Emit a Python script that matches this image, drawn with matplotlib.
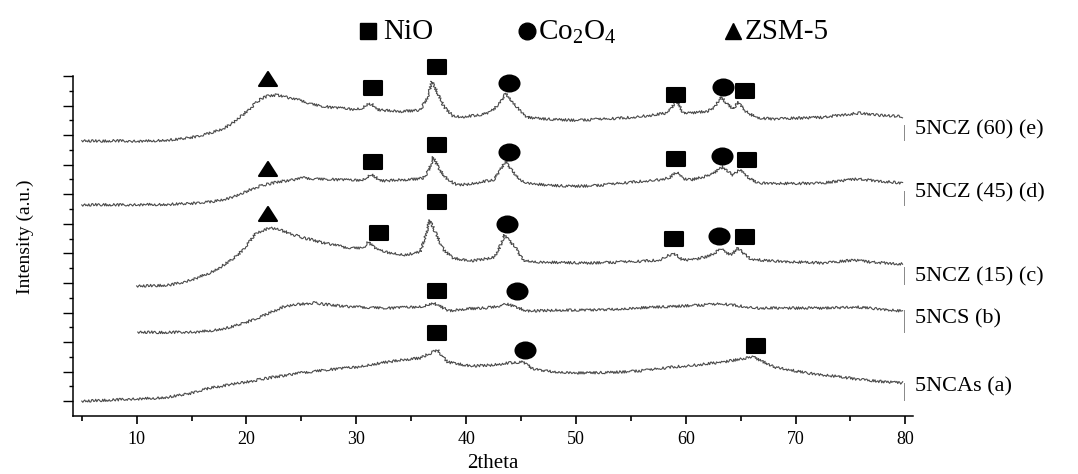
import numpy as np
import matplotlib
matplotlib.use("Agg")
from matplotlib import pyplot as plt
from matplotlib.markers import MarkerStyle
from matplotlib.transforms import Affine2D
from matplotlib.ticker import MultipleLocator, FixedLocator

plt.rcParams['font.family'] = ['Liberation Serif', 'DejaVu Serif']
plt.rcParams['mathtext.fontset'] = 'custom'
plt.rcParams['mathtext.rm'] = 'Liberation Serif'

# XRD traces, (2theta, intensity offset units)
trace_e = [(5.0,18.63),(6.5,18.6),(8.0,18.62),(9.5,18.58),(11.0,18.6),(12.5,18.66),(13.5,18.7),
           (14.5,18.8),(15.5,18.9),(16.3,19.05),(17.0,19.2),(17.9,19.45),(18.5,19.7),(19.1,20.0),
           (19.7,20.4),(20.3,20.8),(20.9,21.2),(21.4,21.5),(22.0,21.65),(22.8,21.72),(23.5,21.6),
           (24.2,21.45),(25.2,21.3),(26.0,21.1),(27.0,20.95),(28.0,20.85),(29.0,20.8),(29.7,20.75),
           (30.5,20.8),(31.1,21.15),(31.5,21.05),(31.9,20.72),(33.0,20.65),(34.0,20.6),(35.0,20.65),
           (35.8,20.7),(36.4,21.4),(36.9,22.62),(37.4,21.85),(38.0,20.9),(38.8,20.3),(39.5,20.22),
           (40.5,20.3),(41.5,20.4),(42.2,20.55),(43.0,21.1),(43.6,21.85),(44.3,21.2),(45.0,20.6),
           (45.6,20.2),(47.0,20.1),(48.5,20.05),(50.0,20.0),(51.3,20.05),(53.0,20.1),(55.0,20.2),
           (57.0,20.35),(58.3,20.5),(59.2,21.3),(59.8,20.45),(61.0,20.55),(62.0,20.6),(62.7,20.95),
           (63.2,21.6),(63.8,21.1),(64.3,20.75),(64.8,21.25),(65.5,20.6),(66.5,20.15),(68.0,20.1),
           (70.0,20.15),(72.5,20.2),(74.0,20.35),(75.9,20.5),(77.5,20.35),(79.75,20.25)]
trace_d = [(5.0,14.28),(7.0,14.3),(9.0,14.27),(11.0,14.3),(13.0,14.32),(15.5,14.4),(17.0,14.5),
           (18.5,14.75),(19.5,15.0),(20.3,15.3),(21.0,15.5),(22.0,15.7),(23.0,15.85),(24.0,15.95),
           (25.2,16.1),(26.5,16.05),(28.0,16.0),(29.5,15.95),(30.6,15.97),(31.4,16.37),(32.2,15.9),
           (33.5,15.95),(35.0,16.0),(36.1,16.1),(36.6,16.6),(37.0,17.52),(37.6,16.64),(38.3,16.0),
           (39.2,15.63),(40.5,15.7),(41.5,15.85),(42.5,15.97),(43.0,16.5),(43.6,17.25),(44.3,16.5),
           (45.0,15.95),(45.6,15.76),(47.5,15.6),(49.5,15.55),(51.3,15.56),(53.5,15.7),(55.5,15.85),
           (57.4,15.97),(58.5,16.1),(59.2,16.5),(59.8,16.05),(60.4,15.97),(61.5,16.15),(62.3,16.3),
           (63.0,16.7),(63.4,16.85),(63.9,16.5),(64.3,16.3),(65.0,16.7),(65.6,16.2),(66.5,15.76),
           (68.0,15.75),(70.0,15.72),(72.5,15.76),(74.0,15.9),(75.6,16.03),(77.5,15.9),(79.75,15.76)]
trace_c = [(10.0,8.8),(11.5,8.82),(13.0,8.86),(14.3,9.05),(15.5,9.34),(16.7,9.7),(17.8,10.15),
           (18.8,10.65),(19.7,11.23),(20.3,11.8),(20.9,12.38),(21.5,12.55),(22.1,12.72),(23.0,12.6),
           (24.0,12.35),(24.9,12.1),(25.8,11.95),(26.7,11.77),(27.8,11.6),(28.8,11.43),(29.8,11.38),
           (30.6,11.37),(31.1,11.77),(31.9,11.23),(33.0,11.05),(34.3,10.9),(35.2,11.0),(35.8,11.1),
           (36.2,11.9),(36.7,13.26),(37.4,12.1),(38.0,11.2),(38.8,10.69),(40.4,10.49),(41.5,10.6),
           (42.5,10.72),(43.0,11.3),(43.5,12.25),(44.0,11.8),(44.5,11.43),(45.2,10.55),(46.5,10.42),
           (48.5,10.38),(51.3,10.35),(53.5,10.4),(55.5,10.45),(57.6,10.55),(58.9,11.03),(59.7,10.55),
           (61.0,10.62),(62.0,10.8),(62.6,11.0),(63.2,11.3),(63.7,11.05),(64.2,10.9),(64.7,11.37),
           (65.9,10.62),(67.5,10.5),(70.0,10.42),(72.5,10.35),(74.0,10.45),(75.3,10.55),(77.0,10.4),
           (79.75,10.28)]
trace_b = [(10.1,5.68),(12.0,5.66),(14.0,5.66),(15.5,5.68),(17.0,5.8),(18.5,6.0),(19.8,6.3),
           (21.0,6.6),(22.2,7.0),(23.3,7.37),(24.7,7.55),(26.1,7.65),(27.8,7.5),(29.7,7.37),
           (31.5,7.35),(33.0,7.3),(34.5,7.35),(36.0,7.4),(37.0,7.65),(38.5,7.1),(40.0,7.25),
           (41.5,7.3),(42.5,7.37),(43.7,7.58),(45.6,7.1),(48.0,7.15),(51.3,7.17),(54.0,7.25),
           (57.4,7.37),(60.0,7.45),(63.4,7.58),(66.5,7.3),(69.0,7.3),(72.5,7.3),(75.6,7.37),
           (77.5,7.25),(79.75,7.1)]
trace_a = [(5.0,1.01),(7.5,1.08),(10.0,1.15),(11.5,1.2),(13.0,1.29),(15.0,1.55),(16.7,1.89),
           (18.3,2.1),(20.0,2.3),(21.8,2.55),(23.7,2.77),(25.3,2.95),(27.0,3.11),(28.5,3.2),
           (30.1,3.32),(31.5,3.5),(32.8,3.65),(34.3,3.8),(35.8,3.92),(36.6,4.2),(37.4,4.47),
           (38.3,3.65),(40.4,3.38),(42.5,3.45),(43.9,3.59),(45.2,3.65),(46.1,3.18),(48.0,3.0),
           (50.1,2.91),(52.0,2.93),(54.3,2.98),(56.5,3.1),(58.9,3.32),(61.0,3.45),(63.4,3.65),
           (65.0,3.85),(66.2,3.99),(68.0,3.32),(71.0,2.91),(73.5,2.7),(75.6,2.5),(77.5,2.35),
           (79.75,2.23)]

traces = [trace_e, trace_d, trace_c, trace_b, trace_a]
labels = ["5NCZ (60) (e)", "5NCZ (45) (d)", "5NCZ (15) (c)", "5NCS (b)", "5NCAs (a)"]
label_y = [19.35, 15.1, 9.4, 6.6, 1.95]
end_bars = [(18.7, 19.7), (14.3, 15.2), (8.9, 10.1), (5.7, 7.2), (1.1, 2.2)]

# phase markers (2theta, height)
nio_pos = [(31.53,22.19),(37.36,23.61),(59.15,21.72),(65.44,21.99),
           (31.53,17.19),(37.36,18.34),(59.15,17.39),(65.62,17.32),
           (32.07,12.38),(37.36,14.48),(58.97,11.98),(65.44,12.11),
           (37.36,8.46),
           (37.36,5.62),(66.44,4.74)]
co_pos = [(43.92,22.53),(63.43,22.26),(43.92,17.86),(63.34,17.59),
          (43.74,12.99),(63.07,12.18),(44.65,8.46),(45.38,4.47)]
zsm_pos = [(21.96,22.8),(21.96,16.71),(21.96,13.67)]

legend_names = ["NiO", "Co$_2$O$_4$", "ZSM-5"]

fig = plt.figure(figsize=(10.78, 4.74), dpi=100)
ax = fig.add_axes([73/1078, 58/474, 840/1078, 340/474])

for tr in traces:
    xs, ys = zip(*tr)
    ln, = ax.plot(xs, ys, color='#4a4a4a', lw=0.8, clip_on=False)
    ln.set_sketch_params(scale=1.3, length=1.5, randomness=3)

for (y0, y1) in end_bars:
    ax.plot([79.85, 79.85], [y0, y1], color='#888888', lw=0.7, clip_on=False)

for lab, ly in zip(labels, label_y):
    ax.text(80.9, ly, lab, fontsize=16, va='center', ha='left', clip_on=False)

sq = MarkerStyle('s', joinstyle='round', transform=Affine2D().scale(1.25, 1.0))
ci = MarkerStyle('o', transform=Affine2D().scale(1.25, 1.0))
tri = MarkerStyle('^', joinstyle='round', transform=Affine2D().scale(1.3, 1.0))

for pts, m, ms in [(nio_pos, sq, 10), (co_pos, ci, 11.5), (zsm_pos, tri, 10.5)]:
    px, py = zip(*pts)
    ax.plot(px, py, ls='none', marker=m, ms=ms, color='black', mew=1.5, clip_on=False)

ax.set_xlim(4.2, 80.7)
ax.set_ylim(0, 23)
ax.xaxis.set_major_locator(MultipleLocator(10))
ax.xaxis.set_minor_locator(MultipleLocator(5))
ax.yaxis.set_major_locator(FixedLocator(np.arange(1, 24, 2)))
ax.yaxis.set_minor_locator(FixedLocator(np.arange(2, 23, 2)))
ax.tick_params(axis='x', which='major', length=6, width=1.2, labelsize=13, pad=5)
ax.tick_params(axis='x', which='minor', length=3.5, width=1.2)
ax.tick_params(axis='y', which='major', length=7, width=1.0, labelleft=False)
ax.tick_params(axis='y', which='minor', length=3, width=1.0)
for s in ['top', 'right']:
    ax.spines[s].set_visible(False)
for s in ['left', 'bottom']:
    ax.spines[s].set_linewidth(1.1)

ax.set_xlabel("2theta", fontsize=15)
ax.xaxis.set_label_coords(0.5, -0.14)
ax.xaxis.label.set_va('center')
ax.set_ylabel("Intensity (a.u.)", fontsize=14)
ax.yaxis.set_label_coords(-0.057, 0.526)
ax.yaxis.label.set_va('center')

# legend drawn by hand across the top
leg_mx = [368/1078, 527/1078, 733/1078]
leg_tx = [383/1078, 538/1078, 745/1078]
leg_markers = [MarkerStyle('s'), MarkerStyle('o'), MarkerStyle('^')]
for name, mx, tx, mk in zip(legend_names, leg_mx, leg_tx, leg_markers):
    ax.plot([mx], [1 - 31/474], transform=fig.transFigure, marker=mk, ms=12,
            color='black', ls='none', clip_on=False)
    fig.text(tx, 1 - 39/474, name, fontsize=21, va='baseline', ha='left')

fig.savefig("out.png", dpi=100)
